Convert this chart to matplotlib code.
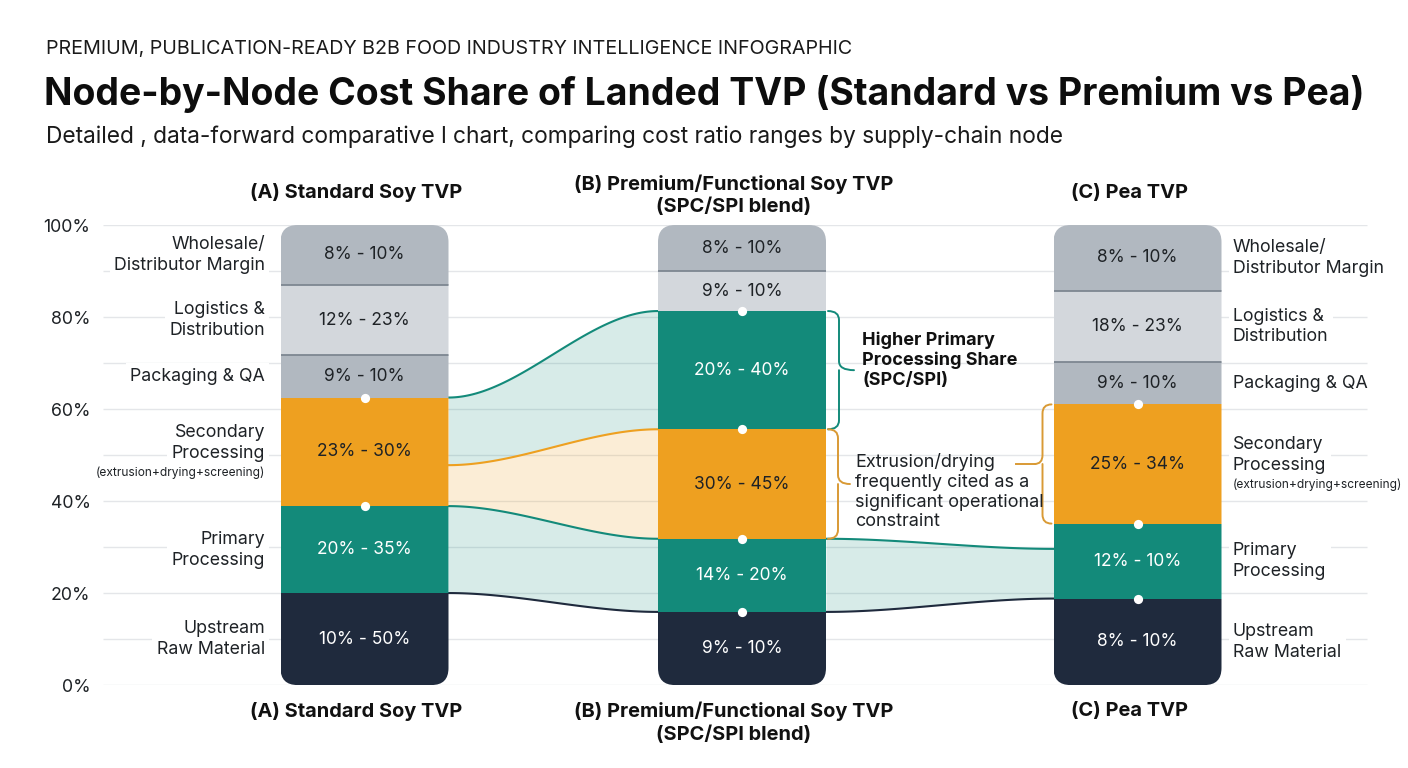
import numpy as np
import matplotlib.pyplot as plt
from matplotlib.patches import FancyBboxPatch, PathPatch
from matplotlib.path import Path

plt.rcParams["font.family"] = ["Inter", "DejaVu Sans"]

# ---- data ----
PRODUCTS = [
    "(A) Standard Soy TVP",
    "(B) Premium/Functional Soy TVP\n(SPC/SPI blend)",
    "(C) Pea TVP",
]

# segments bottom -> top
SEG_A = ["upstream", "primary", "secondary", "packaging", "logistics", "wholesale"]
HEIGHT_A = [20.0, 18.9, 23.6, 9.2, 15.3, 13.0]
RANGE_A = ["10% - 50%", "20% - 35%", "23% - 30%", "9% - 10%", "12% - 23%", "8% - 10%"]

SEG_B = ["upstream", "primary", "secondary", "primary", "logistics", "wholesale"]
HEIGHT_B = [15.9, 15.9, 23.8, 25.7, 8.7, 10.0]
RANGE_B = ["9% - 10%", "14% - 20%", "30% - 45%", "20% - 40%", "9% - 10%", "8% - 10%"]

SEG_C = ["upstream", "primary", "secondary", "packaging", "logistics", "wholesale"]
HEIGHT_C = [18.8, 16.3, 25.9, 9.2, 15.5, 14.3]
RANGE_C = ["8% - 10%", "12% - 10%", "25% - 34%", "9% - 10%", "18% - 23%", "8% - 10%"]

NODE_LABELS = {
    "upstream": "Upstream\nRaw Material",
    "primary": "Primary\nProcessing",
    "secondary": "Secondary\nProcessing",
    "packaging": "Packaging & QA",
    "logistics": "Logistics &\nDistribution",
    "wholesale": "Wholesale/\nDistributor Margin",
}
SECONDARY_NOTE = "(extrusion+drying+screening)"

# ribbon end points (share at left bar, share at right bar)
FLOW_AB = [(62.5, 81.3), (47.8, 55.6), (38.9, 31.8), (20.0, 15.9)]
FLOW_BC = [(31.8, 29.6), (15.9, 18.8)]

# white markers on segment boundaries
DOTS_A = [62.5, 38.9]
DOTS_B = [81.3, 55.6, 31.8, 15.9]
DOTS_C = [61.0, 35.1, 18.8]

# ---- style ----
COLORS = {
    "upstream": "#1F2A3D",
    "primary": "#138A7A",
    "secondary": "#EEA020",
    "packaging": "#B1B8C0",
    "logistics": "#D3D7DC",
    "wholesale": "#B1B8C0",
}
TEXT_ON = {
    "upstream": "white",
    "primary": "white",
    "secondary": "#1E2226",
    "packaging": "#1E2226",
    "logistics": "#1E2226",
    "wholesale": "#1E2226",
}
GRAYS = {"packaging", "logistics", "wholesale"}
TEAL = "#138A7A"
ORANGE = "#EEA020"
NAVY = "#1F2A3D"
DARK = "#1E2226"

BAR_X = [364.5, 742, 1137.5]
BAR_W = 168
PX_PER_PCT = 4.6


def s_curve(x0, x1, y0, y1, n=100):
    t = np.linspace(0, 1, n)
    s = t * t * (3 - 2 * t)
    return x0 + (x1 - x0) * t, y0 + (y1 - y0) * s


def brace(ax, x0, y_bot, y_top, direction, color, spine=11, tip=24):
    rx = direction * spine
    ry = 9 / PX_PER_PCT
    xs = x0 + rx
    xt = x0 + direction * tip
    ym = (y_bot + y_top) / 2
    verts = [
        (x0, y_top), (xs, y_top), (xs, y_top - ry),
        (xs, ym + ry),
        (xs, ym), (xt, ym),
        (xs, ym), (xs, ym - ry),
        (xs, y_bot + ry),
        (xs, y_bot), (x0, y_bot),
    ]
    codes = [
        Path.MOVETO, Path.CURVE3, Path.CURVE3,
        Path.LINETO,
        Path.CURVE3, Path.CURVE3,
        Path.MOVETO, Path.CURVE3,
        Path.LINETO,
        Path.CURVE3, Path.CURVE3,
    ]
    ax.add_patch(PathPatch(Path(verts, codes), fill=False, edgecolor=color,
                           lw=1.4, zorder=4, capstyle="round"))
    return xt, ym


fig = plt.figure(figsize=(14.08, 7.68), dpi=100)
fig.patch.set_facecolor("white")
ax = fig.add_axes([103 / 1408, 0.108, 1305 / 1408, 0.599])
ax.set_xlim(103, 1408)
ax.set_ylim(0, 100)
for sp in ax.spines.values():
    sp.set_visible(False)
ax.set_xticks([])
ax.set_yticks(np.arange(0, 101, 20))
ax.set_yticklabels([f"{v}%" for v in range(0, 101, 20)])
ax.tick_params(axis="y", length=0, pad=9, labelsize=12.8, labelcolor=DARK)

ax.hlines(np.arange(0, 101, 10), 103, 1367, color="#E4E6E9", lw=1, zorder=0)

# ribbons
left_a = BAR_X[0] + BAR_W / 2
right_b = BAR_X[1] - BAR_W / 2
curves = [s_curve(left_a, right_b, a, b) for a, b in FLOW_AB]
xs = curves[0][0]
fills = [(TEAL, 0.17), (ORANGE, 0.18), (TEAL, 0.17)]
for i, (fc, al) in enumerate(fills):
    ax.fill_between(xs, curves[i][1], curves[i + 1][1], color=fc, alpha=al,
                    lw=0, zorder=1)
for (x, y), c in zip(curves, [TEAL, ORANGE, TEAL, NAVY]):
    ax.plot(x, y, color=c, lw=1.5, zorder=2)

left_b = BAR_X[1] + BAR_W / 2
right_c = BAR_X[2] - BAR_W / 2
curves = [s_curve(left_b, right_c, a, b) for a, b in FLOW_BC]
ax.fill_between(curves[0][0], curves[0][1], curves[1][1], color=TEAL,
                alpha=0.17, lw=0, zorder=1)
for (x, y), c in zip(curves, [TEAL, NAVY]):
    ax.plot(x, y, color=c, lw=1.5, zorder=2)

# stacked bars
stacks = [(SEG_A, HEIGHT_A, RANGE_A, DOTS_A),
          (SEG_B, HEIGHT_B, RANGE_B, DOTS_B),
          (SEG_C, HEIGHT_C, RANGE_C, DOTS_C)]
centers = []
for x, (segs, heights, ranges, dots) in zip(BAR_X, stacks):
    bottoms = np.concatenate([[0], np.cumsum(heights)[:-1]])
    clip = FancyBboxPatch((x - BAR_W / 2, 0), BAR_W, sum(heights),
                          boxstyle="round,pad=0,rounding_size=17",
                          mutation_aspect=1 / PX_PER_PCT,
                          facecolor="none", edgecolor="none",
                          transform=ax.transData)
    ax.add_patch(clip)
    bars = ax.bar([x] * len(segs), heights, bottom=bottoms, width=BAR_W,
                  color=[COLORS[s] for s in segs], lw=0, zorder=3)
    for p in bars.patches:
        p.set_clip_path(clip)
    for i in range(1, len(segs)):
        if segs[i] in GRAYS and segs[i - 1] in GRAYS:
            ln = ax.hlines(bottoms[i], x - BAR_W / 2, x + BAR_W / 2,
                           color="#7D8791", lw=1.3, zorder=3.5)
            ln.set_clip_path(clip)
    mids = bottoms + np.array(heights) / 2
    for s, m, r in zip(segs, mids, ranges):
        ax.text(x, m, r, ha="center", va="center", fontsize=12.5,
                color=TEXT_ON[s], zorder=5)
    ax.scatter([x] * len(dots), dots, s=44, color="white", lw=0, zorder=6)
    centers.append(mids)

# side labels


def side_label(x, y, seg, ha):
    box = dict(boxstyle="square,pad=0.25", fc="white", ec="none")
    if seg == "secondary":
        ax.text(x, y + 2.0, NODE_LABELS[seg], ha=ha, va="center",
                fontsize=12.8, color=DARK, linespacing=1.3, bbox=box, zorder=5)
        ax.text(x, y - 4.6, SECONDARY_NOTE, ha=ha, va="center",
                fontsize=8.6, color=DARK, zorder=5)
    else:
        ax.text(x, y, NODE_LABELS[seg], ha=ha, va="center", fontsize=12.8,
                color=DARK, linespacing=1.3, bbox=box, zorder=5)


for seg, m in zip(SEG_A, centers[0]):
    side_label(265, m, seg, "right")
for seg, m in zip(SEG_C, centers[2]):
    side_label(1233, m, seg, "left")

# product headers, top and bottom
top_y = [107.0, 106.4, 107.0]
bot_y = [-5.65, -8.2, -5.65]
for x, name, ty, by in zip(BAR_X, PRODUCTS, top_y, bot_y):
    for yy in (ty, by):
        ax.text(x - 8, yy, name, ha="center", va="center", fontsize=14.4,
                fontweight="bold", color="#111111", linespacing=1.25,
                clip_on=False)

# annotations
x_edge = BAR_X[1] + BAR_W / 2 + 2
brace(ax, x_edge, 55.6, 81.3, +1, TEAL, spine=11, tip=26)
ax.text(862, 70.65, "Higher Primary\nProcessing Share\n(SPC/SPI)", ha="left",
        va="center", fontsize=13, fontweight="bold", color="#111111",
        linespacing=1.22, zorder=5)
brace(ax, x_edge, 31.8, 55.6, +1, "#D99A35", spine=10, tip=22)
ax.text(855, 42.0,
        "Extrusion/drying\nfrequently cited as a\nsignificant operational\nconstraint",
        ha="left", va="center", fontsize=13, color=DARK, linespacing=1.2,
        zorder=5)
tip_x, tip_y = brace(ax, BAR_X[2] - BAR_W / 2 - 2, 35.1, 61.0, -1, "#D99A35",
                     spine=9, tip=17)
ax.plot([1016, tip_x], [tip_y, tip_y], color="#D99A35", lw=1.4, zorder=4)

# titles
fig.text(46 / 1408, 1 - 49 / 768,
         "PREMIUM, PUBLICATION-READY B2B FOOD INDUSTRY INTELLIGENCE INFOGRAPHIC",
         ha="left", va="center", fontsize=14.2, color="#1a1a1a")
fig.text(44 / 1408, 1 - 94 / 768,
         "Node-by-Node Cost Share of Landed TVP (Standard vs Premium vs Pea)",
         ha="left", va="center", fontsize=26.9, fontweight="bold", color="#0d0d0d")
fig.text(46 / 1408, 1 - 137 / 768,
         "Detailed , data-forward comparative l chart, comparing cost ratio ranges by supply-chain node",
         ha="left", va="center", fontsize=16.4, color="#1a1a1a")

fig.savefig("out.png", dpi=100, facecolor="white")
